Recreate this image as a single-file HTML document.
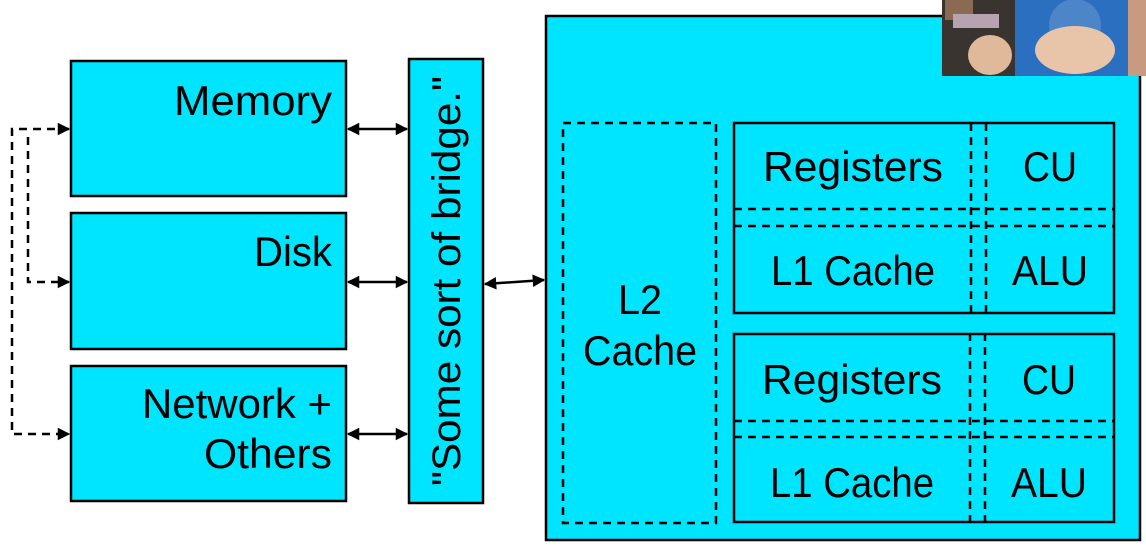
<!DOCTYPE html>
<html><head><meta charset="utf-8"><style>
html,body{margin:0;padding:0;background:#fff;width:1146px;height:548px;overflow:hidden}
svg{display:block}
text{font-family:"Liberation Sans",sans-serif;fill:#000}
</style></head><body>
<svg width="1146" height="548" viewBox="0 0 1146 548" xmlns="http://www.w3.org/2000/svg">
<defs>
<marker id="a" viewBox="0 0 10 10" refX="9" refY="5" markerWidth="6" markerHeight="5" orient="auto-start-reverse"><path d="M0,0 L10,5 L0,10 z" fill="#000"/></marker>
</defs>
<g fill="#00e5ff" stroke="#000" stroke-width="2.5">
<rect x="71" y="61" width="275" height="135"/>
<rect x="71" y="213" width="275" height="136"/>
<rect x="71" y="366" width="275" height="135"/>
<rect x="409" y="59" width="74" height="444"/>
<rect x="546" y="16" width="594" height="524"/>
</g>
<g font-size="42" text-anchor="end" lengthAdjust="spacingAndGlyphs">
<text x="332" y="115" textLength="158" lengthAdjust="spacingAndGlyphs">Memory</text>
<text x="332" y="266" textLength="78" lengthAdjust="spacingAndGlyphs">Disk</text>
<text x="332" y="418" textLength="190" lengthAdjust="spacingAndGlyphs">Network +</text>
<text x="332" y="468" textLength="128" lengthAdjust="spacingAndGlyphs">Others</text>
</g>
<text font-size="40" text-anchor="middle" transform="translate(460,281) rotate(-90)" textLength="410" lengthAdjust="spacingAndGlyphs">"Some sort of bridge."</text>
<g stroke="#000" stroke-width="2.5" fill="none" marker-start="url(#a)" marker-end="url(#a)">
<line x1="348" y1="129" x2="407" y2="129"/>
<line x1="348" y1="282" x2="407" y2="282"/>
<line x1="348" y1="434" x2="407" y2="434"/>
<line x1="485" y1="284" x2="544" y2="280"/>
</g>
<g stroke="#000" stroke-width="2.5" fill="none" stroke-dasharray="8,6">
<polyline points="69,129 12,129 12,434 69,434" marker-start="url(#a)" marker-end="url(#a)"/>
<polyline points="28,137 28,282 69,282" marker-end="url(#a)"/>
</g>
<g stroke="#000" stroke-width="2.5" fill="none" stroke-dasharray="8,6">
<rect x="563" y="123" width="153" height="400"/>
<line x1="971" y1="123" x2="971" y2="313"/><line x1="986" y1="123" x2="986" y2="313"/>
<line x1="734" y1="209" x2="1113" y2="209"/><line x1="734" y1="226" x2="1113" y2="226"/>
<line x1="970" y1="333" x2="970" y2="522"/><line x1="985" y1="333" x2="985" y2="522"/>
<line x1="734" y1="421" x2="1113" y2="421"/><line x1="734" y1="437" x2="1113" y2="437"/>
</g>
<g stroke="#000" stroke-width="2.5" fill="none">
<rect x="734" y="123" width="380" height="190"/>
<rect x="734" y="334" width="380" height="188"/>
</g>
<g font-size="42" text-anchor="middle">
<text x="640" y="314" textLength="44" lengthAdjust="spacingAndGlyphs">L2</text>
<text x="640" y="365" textLength="114" lengthAdjust="spacingAndGlyphs">Cache</text>
<text x="853" y="181" textLength="180" lengthAdjust="spacingAndGlyphs">Registers</text>
<text x="1050" y="181" textLength="54" lengthAdjust="spacingAndGlyphs">CU</text>
<text x="853" y="285" textLength="164" lengthAdjust="spacingAndGlyphs">L1 Cache</text>
<text x="1050" y="285" textLength="76" lengthAdjust="spacingAndGlyphs">ALU</text>
<text x="852" y="394" textLength="180" lengthAdjust="spacingAndGlyphs">Registers</text>
<text x="1049" y="394" textLength="54" lengthAdjust="spacingAndGlyphs">CU</text>
<text x="852" y="497" textLength="164" lengthAdjust="spacingAndGlyphs">L1 Cache</text>
<text x="1049" y="497" textLength="76" lengthAdjust="spacingAndGlyphs">ALU</text>
</g>
<g>
<rect x="942" y="0" width="204" height="76" fill="#3a3430"/>
<rect x="945" y="0" width="28" height="20" fill="#8a6a50"/>
<rect x="953" y="14" width="46" height="14" fill="#b7a3b0"/>
<rect x="1015" y="0" width="131" height="76" fill="#2a6fc0"/>
<circle cx="1075" cy="25" r="26" fill="#4d86c8"/>
<ellipse cx="990" cy="55" rx="22" ry="20" fill="#e0b89a"/>
<ellipse cx="1075" cy="50" rx="40" ry="24" fill="#e8c5a8"/>
<rect x="1128" y="0" width="18" height="76" fill="#c89a80"/>
</g>
</svg>
</body></html>
